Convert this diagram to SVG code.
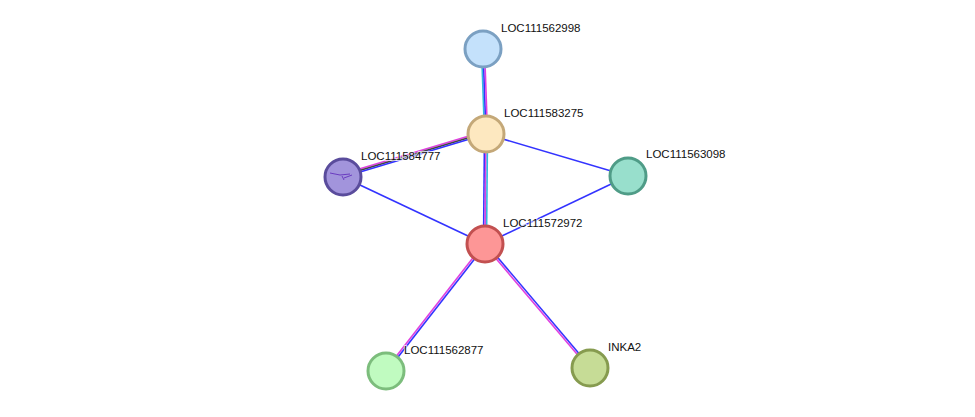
<svg xmlns="http://www.w3.org/2000/svg" width="975" height="417" viewBox="0 0 975 417">
<style>
.e{stroke-width:1.6;fill:none}
.b{stroke:#3333ff}.m{stroke:#e040e0}.c{stroke:#33bbdd}.k{stroke:#444}
.n{stroke-width:3}
text{font-family:"Liberation Sans",Arial,sans-serif;font-size:11.5px;fill:#111;paint-order:stroke;stroke:#fff;stroke-width:2px;stroke-opacity:0.7}
</style>
<rect width="975" height="417" fill="#fff"/>
<g id="edges">
<line class="e c" x1="481.5" y1="49" x2="484.5" y2="134"/>
<line class="e b" x1="483" y1="49" x2="486" y2="134"/>
<line class="e m" x1="484.5" y1="49" x2="487.5" y2="134"/>
<line class="e b" x1="484.5" y1="134" x2="483.5" y2="244"/>
<line class="e m" x1="486" y1="134" x2="485" y2="244"/>
<line class="e c" x1="487.5" y1="134" x2="486.5" y2="244"/>
<line class="e m" x1="485.6" y1="131.1" x2="342.6" y2="174.1"/>
<line class="e k" x1="486" y1="132.6" x2="343" y2="175.6"/>
<line class="e b" x1="486.4" y1="134.1" x2="343.4" y2="177.1"/>
<line class="e b" x1="486" y1="134" x2="628" y2="176"/>
<line class="e b" x1="628" y1="176" x2="485" y2="244"/>
<line class="e b" x1="343" y1="177" x2="485" y2="244"/>
<line class="e m" x1="484.2" y1="243.4" x2="385.2" y2="370.4"/>
<line class="e b" x1="485.8" y1="244.6" x2="386.8" y2="371.6"/>
<line class="e m" x1="484.2" y1="244.6" x2="589.2" y2="368.6"/>
<line class="e b" x1="485.8" y1="243.4" x2="590.8" y2="367.4"/>
</g>
<g id="LOC111562998"><circle class="n" cx="483" cy="49" r="18" fill="#c4e1fb" stroke="#7ba0c2"/><text x="501" y="32">LOC111562998</text></g>
<g id="LOC111583275"><circle class="n" cx="486" cy="134" r="18" fill="#fde8c0" stroke="#c4a878"/><text x="504" y="117">LOC111583275</text></g>
<g id="LOC111584777"><circle class="n" cx="343" cy="177" r="18" fill="#a294dc" stroke="#5a4c9c"/><path d="M330 173 l10 2 l10 -1 m-8 2 l2 4 m0 -2 l8 -3" stroke="#6a3cc0" stroke-width="1" fill="none"/><text x="361" y="160">LOC111584777</text></g>
<g id="LOC111563098"><circle class="n" cx="628" cy="176" r="18" fill="#98dfcc" stroke="#4f9c87"/><text x="646" y="158">LOC111563098</text></g>
<g id="LOC111572972"><circle class="n" cx="485" cy="244" r="18" fill="#fd9696" stroke="#c25050"/><text x="503" y="227">LOC111572972</text></g>
<g id="LOC111562877"><circle class="n" cx="386" cy="371" r="18" fill="#c0fbc0" stroke="#7cbd7c"/><text x="404" y="354">LOC111562877</text></g>
<g id="INKA2"><circle class="n" cx="590" cy="368" r="18" fill="#c6dc96" stroke="#869b4f"/><text x="608" y="351">INKA2</text></g>
</svg>
